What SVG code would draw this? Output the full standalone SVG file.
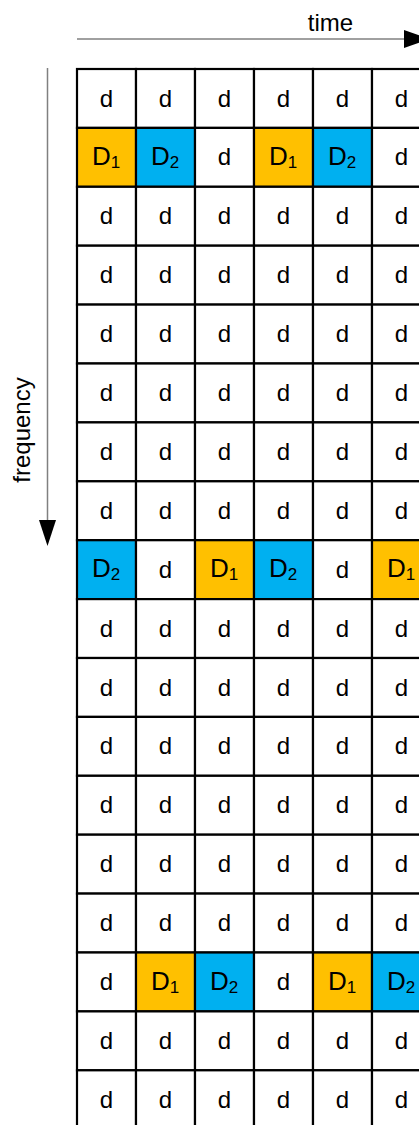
<svg xmlns="http://www.w3.org/2000/svg" width="419" height="1125" viewBox="0 0 419 1125">
<style>
rect{stroke:#000;stroke-width:2.2}
.w{fill:#fff}.o{fill:#FFC000}.b{fill:#00B0F0}
text{font-family:"Liberation Sans",Arial,sans-serif;fill:#000;text-anchor:middle}
.d{font-size:24px}
.D{font-size:26px}
.s{font-size:17px}
.lbl{font-size:24px}
.axis{stroke:#808080;stroke-width:1.5;fill:none}
</style>
<defs>
<g id="cd"><rect class="w" width="59" height="58.9"/><text class="d" x="29.5" y="37.5">d</text></g>
<g id="c1"><rect class="o" width="59" height="58.9"/><text class="D" x="29" y="37">D<tspan class="s" dy="3">1</tspan></text></g>
<g id="c2"><rect class="b" width="59" height="58.9"/><text class="D" x="29" y="37">D<tspan class="s" dy="3">2</tspan></text></g>
</defs>
<g id="connectors">
<line class="axis" x1="77" y1="39" x2="405" y2="39"/>
<polygon points="404,30 404,48 430,39" fill="#000"/>
<line class="axis" x1="47.5" y1="68" x2="47.5" y2="521"/>
<polygon points="39,520 56,520 47.5,546" fill="#000"/>
</g>
<g id="label-time"><text class="lbl" x="330.5" y="31">time</text></g>
<g id="label-frequency"><text class="lbl" transform="translate(30,430) rotate(-90)">frequency</text></g>
<g id="grid">
<g id="r0"><use id="r0c0" href="#cd" x="77" y="69"/><use id="r0c1" href="#cd" x="136" y="69"/><use id="r0c2" href="#cd" x="195" y="69"/><use id="r0c3" href="#cd" x="254" y="69"/><use id="r0c4" href="#cd" x="313" y="69"/><use id="r0c5" href="#cd" x="372" y="69"/></g>
<g id="r1"><use id="r1c0" href="#c1" x="77" y="127.9"/><use id="r1c1" href="#c2" x="136" y="127.9"/><use id="r1c2" href="#cd" x="195" y="127.9"/><use id="r1c3" href="#c1" x="254" y="127.9"/><use id="r1c4" href="#c2" x="313" y="127.9"/><use id="r1c5" href="#cd" x="372" y="127.9"/></g>
<g id="r2"><use id="r2c0" href="#cd" x="77" y="186.8"/><use id="r2c1" href="#cd" x="136" y="186.8"/><use id="r2c2" href="#cd" x="195" y="186.8"/><use id="r2c3" href="#cd" x="254" y="186.8"/><use id="r2c4" href="#cd" x="313" y="186.8"/><use id="r2c5" href="#cd" x="372" y="186.8"/></g>
<g id="r3"><use id="r3c0" href="#cd" x="77" y="245.7"/><use id="r3c1" href="#cd" x="136" y="245.7"/><use id="r3c2" href="#cd" x="195" y="245.7"/><use id="r3c3" href="#cd" x="254" y="245.7"/><use id="r3c4" href="#cd" x="313" y="245.7"/><use id="r3c5" href="#cd" x="372" y="245.7"/></g>
<g id="r4"><use id="r4c0" href="#cd" x="77" y="304.6"/><use id="r4c1" href="#cd" x="136" y="304.6"/><use id="r4c2" href="#cd" x="195" y="304.6"/><use id="r4c3" href="#cd" x="254" y="304.6"/><use id="r4c4" href="#cd" x="313" y="304.6"/><use id="r4c5" href="#cd" x="372" y="304.6"/></g>
<g id="r5"><use id="r5c0" href="#cd" x="77" y="363.5"/><use id="r5c1" href="#cd" x="136" y="363.5"/><use id="r5c2" href="#cd" x="195" y="363.5"/><use id="r5c3" href="#cd" x="254" y="363.5"/><use id="r5c4" href="#cd" x="313" y="363.5"/><use id="r5c5" href="#cd" x="372" y="363.5"/></g>
<g id="r6"><use id="r6c0" href="#cd" x="77" y="422.4"/><use id="r6c1" href="#cd" x="136" y="422.4"/><use id="r6c2" href="#cd" x="195" y="422.4"/><use id="r6c3" href="#cd" x="254" y="422.4"/><use id="r6c4" href="#cd" x="313" y="422.4"/><use id="r6c5" href="#cd" x="372" y="422.4"/></g>
<g id="r7"><use id="r7c0" href="#cd" x="77" y="481.3"/><use id="r7c1" href="#cd" x="136" y="481.3"/><use id="r7c2" href="#cd" x="195" y="481.3"/><use id="r7c3" href="#cd" x="254" y="481.3"/><use id="r7c4" href="#cd" x="313" y="481.3"/><use id="r7c5" href="#cd" x="372" y="481.3"/></g>
<g id="r8"><use id="r8c0" href="#c2" x="77" y="540.2"/><use id="r8c1" href="#cd" x="136" y="540.2"/><use id="r8c2" href="#c1" x="195" y="540.2"/><use id="r8c3" href="#c2" x="254" y="540.2"/><use id="r8c4" href="#cd" x="313" y="540.2"/><use id="r8c5" href="#c1" x="372" y="540.2"/></g>
<g id="r9"><use id="r9c0" href="#cd" x="77" y="599.1"/><use id="r9c1" href="#cd" x="136" y="599.1"/><use id="r9c2" href="#cd" x="195" y="599.1"/><use id="r9c3" href="#cd" x="254" y="599.1"/><use id="r9c4" href="#cd" x="313" y="599.1"/><use id="r9c5" href="#cd" x="372" y="599.1"/></g>
<g id="r10"><use id="r10c0" href="#cd" x="77" y="658"/><use id="r10c1" href="#cd" x="136" y="658"/><use id="r10c2" href="#cd" x="195" y="658"/><use id="r10c3" href="#cd" x="254" y="658"/><use id="r10c4" href="#cd" x="313" y="658"/><use id="r10c5" href="#cd" x="372" y="658"/></g>
<g id="r11"><use id="r11c0" href="#cd" x="77" y="716.9"/><use id="r11c1" href="#cd" x="136" y="716.9"/><use id="r11c2" href="#cd" x="195" y="716.9"/><use id="r11c3" href="#cd" x="254" y="716.9"/><use id="r11c4" href="#cd" x="313" y="716.9"/><use id="r11c5" href="#cd" x="372" y="716.9"/></g>
<g id="r12"><use id="r12c0" href="#cd" x="77" y="775.8"/><use id="r12c1" href="#cd" x="136" y="775.8"/><use id="r12c2" href="#cd" x="195" y="775.8"/><use id="r12c3" href="#cd" x="254" y="775.8"/><use id="r12c4" href="#cd" x="313" y="775.8"/><use id="r12c5" href="#cd" x="372" y="775.8"/></g>
<g id="r13"><use id="r13c0" href="#cd" x="77" y="834.7"/><use id="r13c1" href="#cd" x="136" y="834.7"/><use id="r13c2" href="#cd" x="195" y="834.7"/><use id="r13c3" href="#cd" x="254" y="834.7"/><use id="r13c4" href="#cd" x="313" y="834.7"/><use id="r13c5" href="#cd" x="372" y="834.7"/></g>
<g id="r14"><use id="r14c0" href="#cd" x="77" y="893.6"/><use id="r14c1" href="#cd" x="136" y="893.6"/><use id="r14c2" href="#cd" x="195" y="893.6"/><use id="r14c3" href="#cd" x="254" y="893.6"/><use id="r14c4" href="#cd" x="313" y="893.6"/><use id="r14c5" href="#cd" x="372" y="893.6"/></g>
<g id="r15"><use id="r15c0" href="#cd" x="77" y="952.5"/><use id="r15c1" href="#c1" x="136" y="952.5"/><use id="r15c2" href="#c2" x="195" y="952.5"/><use id="r15c3" href="#cd" x="254" y="952.5"/><use id="r15c4" href="#c1" x="313" y="952.5"/><use id="r15c5" href="#c2" x="372" y="952.5"/></g>
<g id="r16"><use id="r16c0" href="#cd" x="77" y="1011.4"/><use id="r16c1" href="#cd" x="136" y="1011.4"/><use id="r16c2" href="#cd" x="195" y="1011.4"/><use id="r16c3" href="#cd" x="254" y="1011.4"/><use id="r16c4" href="#cd" x="313" y="1011.4"/><use id="r16c5" href="#cd" x="372" y="1011.4"/></g>
<g id="r17"><use id="r17c0" href="#cd" x="77" y="1070.3"/><use id="r17c1" href="#cd" x="136" y="1070.3"/><use id="r17c2" href="#cd" x="195" y="1070.3"/><use id="r17c3" href="#cd" x="254" y="1070.3"/><use id="r17c4" href="#cd" x="313" y="1070.3"/><use id="r17c5" href="#cd" x="372" y="1070.3"/></g>
</g>
</svg>
